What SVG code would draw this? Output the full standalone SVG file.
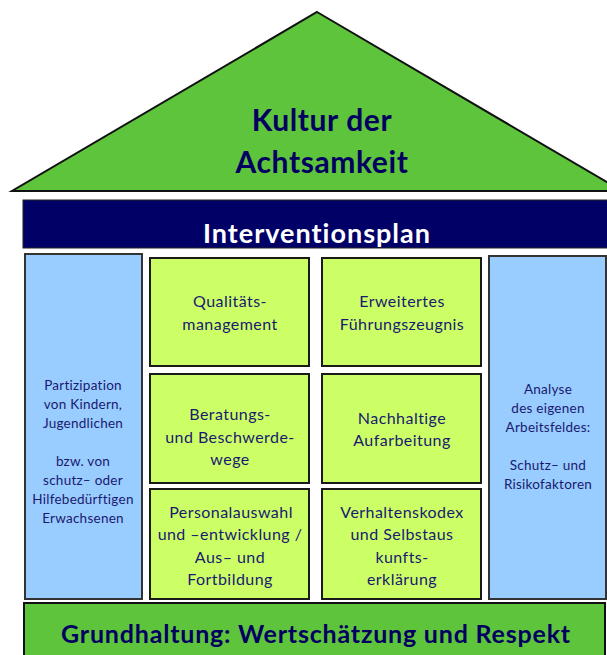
<svg xmlns="http://www.w3.org/2000/svg" width="607" height="655" viewBox="0 0 607 655">
<style>
.box{fill:#CCFF66;stroke:#1a1a1a;stroke-width:2}
.col{fill:#99CCFF;stroke:#333333;stroke-width:2}
.t{font-family:Lato,"Open Sans","Liberation Sans",sans-serif;fill:#1a1a70;text-anchor:middle}
.s{font-size:16px;letter-spacing:0.45px}
.xs{font-size:13.5px;letter-spacing:0.25px}
.big{font-size:30px;font-weight:bold;fill:#000060;letter-spacing:0.6px}
</style>
<rect width="607" height="655" fill="#ffffff"/>
<g id="roof">
<polygon points="317,12 622,191 12,191" fill="#5EC43C" stroke="#111" stroke-width="2"/>
<text class="t big" x="322" y="131">Kultur der</text>
<text class="t big" x="322" y="173">Achtsamkeit</text>
</g>
<g id="interventionsplan">
<rect x="23" y="200" width="600" height="48" fill="#000066" stroke="#222" stroke-width="1"/>
<text class="t" x="317" y="243" style="font-size:27px;font-weight:bold;fill:#ffffff;letter-spacing:1px">Interventionsplan</text>
</g>
<g id="partizipation">
<rect class="col" x="25" y="254" width="117" height="345"/>
<text class="t xs" x="83" y="390">Partizipation</text>
<text class="t xs" x="83" y="409">von Kindern,</text>
<text class="t xs" x="83" y="428">Jugendlichen</text>
<text class="t xs" x="83" y="466">bzw. von</text>
<text class="t xs" x="83" y="485">schutz– oder</text>
<text class="t xs" x="83" y="504">Hilfebedürftigen</text>
<text class="t xs" x="83" y="523">Erwachsenen</text>
</g>
<g id="qualitaet">
<rect class="box" x="150" y="258" width="159" height="108"/>
<text class="t s" x="230" y="307">Qualitäts-</text>
<text class="t s" x="230" y="330">management</text>
</g>
<g id="fuehrungszeugnis">
<rect class="box" x="322" y="258" width="159" height="108"/>
<text class="t s" x="402" y="307">Erweitertes</text>
<text class="t s" x="402" y="330">Führungszeugnis</text>
</g>
<g id="beratung">
<rect class="box" x="150" y="374" width="159" height="109"/>
<text class="t s" x="230" y="420">Beratungs-</text>
<text class="t s" x="230" y="443">und Beschwerde-</text>
<text class="t s" x="230" y="465">wege</text>
</g>
<g id="aufarbeitung">
<rect class="box" x="322" y="374" width="159" height="109"/>
<text class="t s" x="402" y="424">Nachhaltige</text>
<text class="t s" x="402" y="446">Aufarbeitung</text>
</g>
<g id="personal">
<rect class="box" x="150" y="489" width="159" height="110"/>
<text class="t s" x="231" y="518">Personalauswahl</text>
<text class="t s" x="230" y="540">und –entwicklung /</text>
<text class="t s" x="230" y="563">Aus– und</text>
<text class="t s" x="230" y="585">Fortbildung</text>
</g>
<g id="verhaltenskodex">
<rect class="box" x="322" y="489" width="159" height="110"/>
<text class="t s" x="402" y="518">Verhaltenskodex</text>
<text class="t s" x="402" y="540">und Selbstaus</text>
<text class="t s" x="402" y="563">kunfts-</text>
<text class="t s" x="402" y="585">erklärung</text>
</g>
<g id="analyse">
<rect class="col" x="489" y="256" width="117" height="343"/>
<text class="t xs" x="548" y="394">Analyse</text>
<text class="t xs" x="548" y="413">des eigenen</text>
<text class="t xs" x="548" y="432">Arbeitsfeldes:</text>
<text class="t xs" x="548" y="470">Schutz– und</text>
<text class="t xs" x="548" y="489">Risikofaktoren</text>
</g>
<g id="grundhaltung">
<rect x="24" y="603" width="581" height="60" fill="#5EC43C" stroke="#111" stroke-width="2"/>
<text class="t" x="316" y="643" style="font-size:25px;font-weight:bold;fill:#000060;letter-spacing:0.8px">Grundhaltung: Wertschätzung und Respekt</text>
</g>
<g id="connectors"></g>
</svg>
